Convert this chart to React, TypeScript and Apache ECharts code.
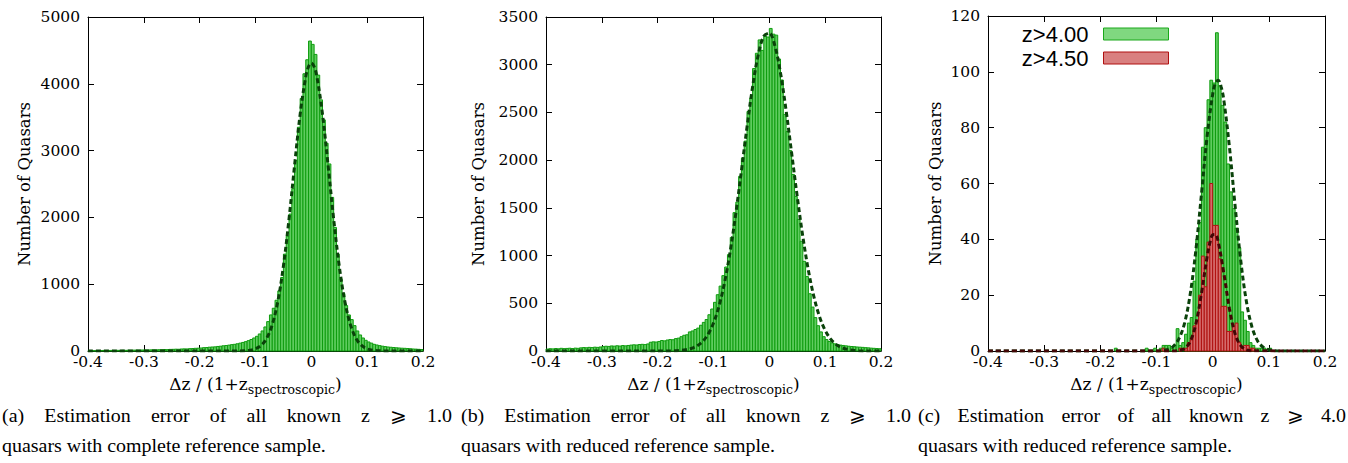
import React, { useEffect, useRef } from "react";
import * as echarts from "echarts";

// ---------- data ----------
const BIN_WIDTH = 0.005;
const X_TICK_LABELS = ["-0.4", "-0.3", "-0.2", "-0.1", "0", "0.1", "0.2"];
const Y_MAX = [5000, 3500, 120];
const Y_STEP = [1000, 500, 20];

const A_START = -0.4;
const A_COUNTS = [
  5, 6, 5, 7, 6, 8, 7, 8, 9, 8,
  10, 9, 11, 10, 12, 11, 13, 14, 13, 15,
  16, 15, 17, 18, 17, 19, 20, 22, 21, 24,
  25, 27, 26, 30, 32, 31, 35, 37, 40, 42,
  45, 50, 52, 57, 60, 62, 68, 72, 78, 82,
  88, 95, 100, 108, 118, 128, 140, 155, 172, 195,
  220, 255, 300, 360, 440, 540, 640, 760, 900, 1100,
  1450, 1720, 2050, 2430, 2850, 3350, 3780, 4150, 4360, 4640,
  4590, 4440, 4130, 3760, 3460, 3110, 2800, 2300, 1850, 1450,
  1080, 860, 680, 540, 470, 380, 300, 240, 195, 160,
  135, 118, 100, 90, 80, 72, 66, 60, 56, 52,
  48, 45, 42, 40, 37, 34, 30, 28, 25, 22,
];

const B_START = -0.4;
const B_COUNTS = [
  20, 24, 22, 26, 23, 28, 25, 27, 29, 26, 30, 28,
  33, 36, 34, 38, 36, 40, 38, 42,
  46, 50, 48, 53, 51, 55, 52, 57, 54, 58,
  62, 65, 63, 68, 70, 67, 74,
  92, 96, 94, 100,
  110, 106, 115, 120, 118,
  130, 135, 150,
  165, 170,
  200, 210, 225, 240,
  270, 300, 330, 380, 440,
  510, 590, 680, 790, 880, 1010, 1190, 1450, 1560, 1830,
  2020, 2200, 2510, 2650, 2960, 3120, 3260, 3150, 3300, 3290,
  3380, 3320, 3310, 3060, 2840, 2480, 2300, 2100, 1850, 1620,
  1380, 1150, 940, 780, 600, 460, 350, 265, 200, 150,
  120, 100, 85, 75, 68, 62, 58, 54, 50, 47,
  45, 42, 40, 38, 35, 33, 30, 28, 26, 24,
];

const C_START = -0.18;
const C_COUNTS_Z400 = [
  0, 1, 0, 0, 0, 0, 0, 0, 0, 0, 0, 0,
  1, 0, 0, 1, 0, 1, 2, 2, 2, 1, 2, 8, 2, 3, 6, 10, 12, 25, 40, 46, 73, 80, 90, 97,
  96, 114, 95, 88, 82, 67, 57, 51, 44, 37, 14, 11, 7, 3, 2, 1, 1, 1, 1, 0, 1, 0,
];
const C_COUNTS_Z450 = [
  0, 0, 0, 0, 0, 0, 0, 0, 0, 0, 0, 0, 0, 0, 0, 0, 0, 0,
  1, 0, 0, 0, 0, 0, 1, 0,
  1, 3, 4, 9, 11, 20, 34, 23, 39, 60,
  45, 45, 33, 16, 16, 7, 7, 9, 10, 3, 1, 2, 2, 1, 1,
  0, 0, 0, 0, 0, 0, 0,
];

const A_FIT_X = [-0.4, -0.2, -0.15, -0.13, -0.12, -0.11, -0.1, -0.09, -0.08, -0.07, -0.06, -0.05, -0.04, -0.03, -0.02, -0.01, -0.005, 0, 0.005, 0.01, 0.02, 0.03, 0.04, 0.05, 0.06, 0.07, 0.08, 0.09, 0.1, 0.11, 0.12, 0.13, 0.15, 0.2];
const A_FIT_Y = [0, 0, 0, 1, 4, 12, 33, 83, 189, 394, 743, 1272, 1974, 2779, 3546, 4105, 4258, 4310, 4258, 4105, 3546, 2779, 1974, 1272, 743, 394, 189, 83, 33, 12, 4, 1, 0, 0];

const B_FIT_X = [-0.4, -0.2, -0.17, -0.16, -0.15, -0.14, -0.13, -0.12, -0.11, -0.1, -0.09, -0.08, -0.07, -0.06, -0.05, -0.04, -0.03, -0.02, -0.01, 0, 0.01, 0.02, 0.03, 0.04, 0.05, 0.06, 0.07, 0.08, 0.09, 0.1, 0.11, 0.12, 0.13, 0.14, 0.15, 0.16, 0.18, 0.2];
const B_FIT_Y = [0, 0, 2, 6, 13, 26, 52, 97, 173, 294, 473, 723, 1048, 1443, 1888, 2345, 2767, 3100, 3298, 3332, 3197, 2914, 2521, 2072, 1617, 1198, 843, 564, 358, 216, 124, 67, 35, 17, 8, 3, 0, 0];

const C_FIT400_X = [-0.4, -0.1, -0.08, -0.07, -0.06, -0.05, -0.04, -0.03, -0.02, -0.01, 0, 0.005, 0.01, 0.015, 0.02, 0.03, 0.04, 0.05, 0.06, 0.07, 0.08, 0.09, 0.1, 0.12, 0.2];
const C_FIT400_Y = [0, 0, 0.6, 1.7, 4.4, 10, 20.3, 36, 56.1, 76.7, 92, 96, 97, 94.7, 89.7, 72.8, 51.9, 32.4, 17.8, 8.6, 3.6, 1.35, 0.45, 0, 0];

const C_FIT450_X = [-0.4, -0.07, -0.06, -0.05, -0.04, -0.03, -0.02, -0.01, -0.005, 0, 0.005, 0.01, 0.02, 0.03, 0.04, 0.05, 0.06, 0.07, 0.2];
const C_FIT450_Y = [0, 0, 0.2, 0.9, 3.4, 9.6, 20.6, 33.6, 38.7, 41.6, 41.7, 39.0, 27.7, 15.0, 6.1, 1.9, 0.45, 0.1, 0];

const LEGEND_NAMES = ["z>4.00", "z>4.50"];
const Y_NAME = "Number of Quasars";
const CAPTIONS = [
  [["(a)", "Estimation", "error", "of", "all", "known", "z", "⩾", "1.0"], "quasars with complete reference sample."],
  [["(b)", "Estimation", "error", "of", "all", "known", "z", "⩾", "1.0"], "quasars with reduced reference sample."],
  [["(c)", "Estimation", "error", "of", "all", "known", "z", "⩾", "4.0"], "quasars with reduced reference sample."],
] as [string[], string][];

// ---------- styles ----------
const CAPTION_FONT = "'Liberation Serif', 'Times New Roman', Times, serif";
const AXIS_FONT = "DejaVu Serif";
const SANS = "'Liberation Sans', Arial, Helvetica, sans-serif";
const BAR_FILL = "#5fcc5f";
const BAR_EDGE = "#0f9c0f";
const GREEN_FILL = "#80d880";
const GREEN_EDGE = "#1aa81a";
const RED_FILL = "#d98080";
const RED_BAR_FILL = "#d46a6a";
const RED_EDGE = "#b01010";
const GREEN_FIT = "#0a420a";
const RED_FIT = "#420606";

const GRIDS = [
  { left: 88, top: 17, width: 335, height: 334 },
  { left: 546, top: 17, width: 335, height: 334 },
  { left: 988, top: 16, width: 337, height: 335 },
];
const Y_NAME_GAP = [55, 59, 44];
const CAPTION_X = [
  [2, 452],
  [461, 911],
  [918, 1346],
];
const CAPTION_Y1 = 416;
const CAPTION_Y2 = 446;
const CAPTION_SIZE = 19;
const CAPTION_SCALE_X = 1.05;

function histData(start: number, counts: number[]) {
  return counts.map((v, i) => [start + i * BIN_WIDTH, start + (i + 1) * BIN_WIDTH, v]);
}
function zip(xs: number[], ys: number[]) {
  return xs.map((x, i) => [x, ys[i]]);
}
function boxRender(fill: string, stroke: string) {
  return (_params: any, api: any) => {
    const v = api.value(2);
    if (!v) return null;
    const p0 = api.coord([api.value(0), v]);
    const p1 = api.coord([api.value(1), 0]);
    return {
      type: "rect",
      shape: { x: p0[0], y: p0[1], width: p1[0] - p0[0], height: p1[1] - p0[1] },
      style: { fill, stroke, lineWidth: 1 },
    };
  };
}

export default function App() {
  const ref = useRef<HTMLDivElement>(null);

  useEffect(() => {
    if (!ref.current) return;
    const chart = echarts.init(ref.current, undefined, { renderer: "svg" });

    const xFormatter = (v: number) => {
      const idx = Math.round((v + 0.4) / 0.1);
      return X_TICK_LABELS[idx] ?? "";
    };

    const xAxes: any[] = [];
    const yAxes: any[] = [];
    for (let i = 0; i < 3; i++) {
      const common = {
        type: "value",
        gridIndex: i,
        axisLine: { show: true, onZero: false, lineStyle: { color: "#000", width: 1 } },
        axisTick: { show: true, inside: true, length: 6, lineStyle: { color: "#000", width: 1 } },
        splitLine: { show: false },
      };
      xAxes.push({
        ...common,
        position: "bottom",
        min: -0.4,
        max: 0.2,
        interval: 0.1,
        axisLabel: { margin: 3, fontFamily: AXIS_FONT, fontSize: 15.5, color: "#000", formatter: xFormatter },
        name: "{m|Δz / (1+z}{s|spectroscopic}{m|)}",
        nameLocation: "middle",
        nameGap: 24,
        nameTextStyle: {
          color: "#000",
          fontFamily: AXIS_FONT,
          rich: {
            m: { fontFamily: AXIS_FONT, fontSize: 17, color: "#000", verticalAlign: "top", lineHeight: 20 },
            s: { fontFamily: AXIS_FONT, fontSize: 12.5, color: "#000", verticalAlign: "top", lineHeight: 14, padding: [8, 0, 0, 0] },
          },
        },
      });
      yAxes.push({
        ...common,
        position: "left",
        min: 0,
        max: Y_MAX[i],
        interval: Y_STEP[i],
        axisLabel: { margin: 8, fontFamily: AXIS_FONT, fontSize: 15.5, color: "#000", formatter: (v: number) => String(v) },
        name: Y_NAME,
        nameLocation: "middle",
        nameGap: Y_NAME_GAP[i],
        nameTextStyle: { fontFamily: AXIS_FONT, fontSize: 16.5, color: "#000" },
      });
    }
    for (let i = 0; i < 3; i++) {
      const common = {
        type: "value",
        gridIndex: i,
        axisLine: { show: true, onZero: false, lineStyle: { color: "#000", width: 1 } },
        axisTick: { show: true, inside: true, length: 6, lineStyle: { color: "#000", width: 1 } },
        axisLabel: { show: false },
        splitLine: { show: false },
      };
      xAxes.push({ ...common, position: "top", min: -0.4, max: 0.2, interval: 0.1 });
      yAxes.push({ ...common, position: "right", min: 0, max: Y_MAX[i], interval: Y_STEP[i] });
    }

    const fitLine = (xi: number, data: number[][], color: string) => ({
      type: "line",
      xAxisIndex: xi,
      yAxisIndex: xi,
      data,
      smooth: 0.35,
      symbol: "none",
      z: 5,
      lineStyle: { color, width: 3, type: [5, 3] },
      silent: true,
    });
    const boxes = (xi: number, name: string, data: number[][], fill: string, stroke: string) => ({
      type: "custom",
      name,
      xAxisIndex: xi,
      yAxisIndex: xi,
      data,
      encode: { x: [0, 1], y: 2 },
      renderItem: boxRender(fill, stroke),
      itemStyle: { color: fill, borderColor: stroke, borderWidth: 1 },
      z: 2,
      silent: true,
    });

    // captions: first line justified across the sub-figure width, second line left aligned
    const ctx = document.createElement("canvas").getContext("2d")!;
    ctx.font = `${CAPTION_SIZE}px ${CAPTION_FONT}`;
    const graphics: any[] = [];
    const textStyle = { fontFamily: CAPTION_FONT, fontSize: CAPTION_SIZE, fill: "#000", verticalAlign: "middle", align: "left" };
    CAPTIONS.forEach(([words, line2], p) => {
      const [x0, x1] = CAPTION_X[p];
      const widths = words.map((w) => ctx.measureText(w).width * CAPTION_SCALE_X);
      const total = widths.reduce((a, b) => a + b, 0);
      const gap = (x1 - x0 - total) / (words.length - 1);
      let x = x0;
      words.forEach((w, j) => {
        graphics.push({ type: "text", x, y: CAPTION_Y1, scaleX: CAPTION_SCALE_X, style: { ...textStyle, text: w } });
        x += widths[j] + gap;
      });
      graphics.push({ type: "text", x: x0, y: CAPTION_Y2, scaleX: CAPTION_SCALE_X, style: { ...textStyle, text: line2 } });
    });

    chart.setOption({
      animation: false,
      backgroundColor: "#fff",
      grid: GRIDS,
      xAxis: xAxes,
      yAxis: yAxes,
      legend: {
        orient: "vertical",
        right: 179,
        top: 23,
        align: "right",
        itemWidth: 65,
        itemHeight: 12,
        itemGap: 2,
        padding: 0,
        selectedMode: false,
        textStyle: { fontFamily: SANS, fontSize: 22, color: "#000", lineHeight: 22, padding: [0, 10, 0, 0] },
        data: [
          { name: LEGEND_NAMES[0], icon: "rect", itemStyle: { color: GREEN_FILL, borderColor: GREEN_EDGE, borderWidth: 1 } },
          { name: LEGEND_NAMES[1], icon: "rect", itemStyle: { color: RED_FILL, borderColor: RED_EDGE, borderWidth: 1 } },
        ],
      },
      series: [
        boxes(0, "a", histData(A_START, A_COUNTS), BAR_FILL, BAR_EDGE),
        fitLine(0, zip(A_FIT_X, A_FIT_Y), GREEN_FIT),
        boxes(1, "b", histData(B_START, B_COUNTS), BAR_FILL, BAR_EDGE),
        fitLine(1, zip(B_FIT_X, B_FIT_Y), GREEN_FIT),
        boxes(2, LEGEND_NAMES[0], histData(C_START, C_COUNTS_Z400), BAR_FILL, BAR_EDGE),
        boxes(2, LEGEND_NAMES[1], histData(C_START, C_COUNTS_Z450), RED_BAR_FILL, RED_EDGE),
        fitLine(2, zip(C_FIT400_X, C_FIT400_Y), GREEN_FIT),
        fitLine(2, zip(C_FIT450_X, C_FIT450_Y), RED_FIT),
      ],
      graphic: graphics,
    });

    return () => chart.dispose();
  }, []);

  return (
    <div
      ref={ref}
      style={{ position: "fixed", left: 0, top: 0, width: 1348, height: 463, background: "#fff" }}
    />
  );
}
